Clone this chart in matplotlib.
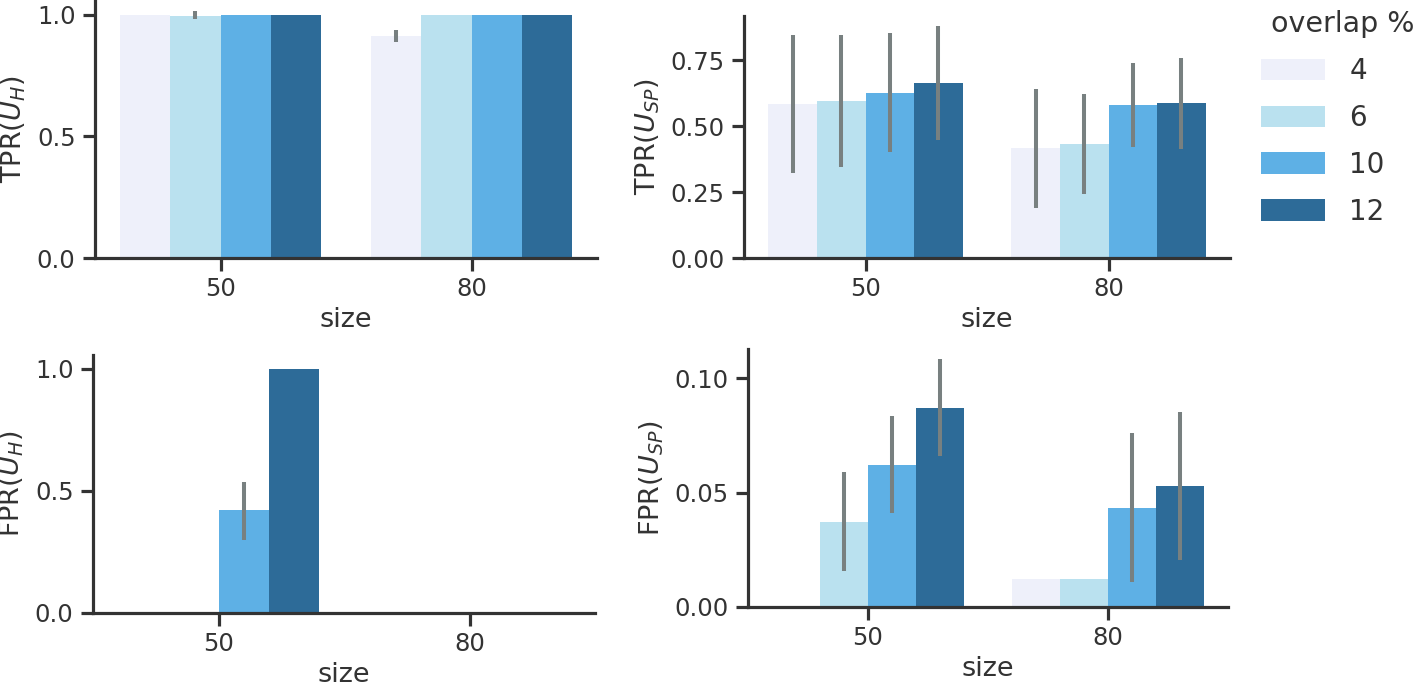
import matplotlib
matplotlib.use("Agg")
import matplotlib.pyplot as plt
import numpy as np
from matplotlib.patches import Patch

sizes = ["50", "80"]
overlaps = ["4", "6", "10", "12"]
colors = ["#eef0fa", "#bae1ef", "#5eb0e5", "#2d6b98"]

# values per overlap, each list is [size 50, size 80]
tpr_h = [[1.0, 0.912], [0.997, 1.0], [1.0, 1.0], [1.0, 1.0]]
tpr_h_lo = [[1.0, 0.888], [0.981, 1.0], [1.0, 1.0], [1.0, 1.0]]
tpr_h_hi = [[1.0, 0.936], [1.014, 1.0], [1.0, 1.0], [1.0, 1.0]]

tpr_sp = [[0.583, 0.417], [0.596, 0.433], [0.627, 0.579], [0.665, 0.586]]
tpr_sp_lo = [[0.322, 0.191], [0.345, 0.244], [0.400, 0.421], [0.446, 0.414]]
tpr_sp_hi = [[0.845, 0.642], [0.845, 0.621], [0.854, 0.740], [0.880, 0.756]]

fpr_h = [[0.0, 0.0], [0.0, 0.0], [0.420, 0.0], [1.0, 0.0]]
fpr_h_lo = [[0.0, 0.0], [0.0, 0.0], [0.301, 0.0], [1.0, 0.0]]
fpr_h_hi = [[0.0, 0.0], [0.0, 0.0], [0.538, 0.0], [1.0, 0.0]]

fpr_sp = [[0.0, 0.0124], [0.0373, 0.0124], [0.0623, 0.0435], [0.0872, 0.0528]]
fpr_sp_lo = [[0.0, 0.0124], [0.0156, 0.0124], [0.0410, 0.0109], [0.0661, 0.0204]]
fpr_sp_hi = [[0.0, 0.0124], [0.0590, 0.0124], [0.0834, 0.0761], [0.1083, 0.0854]]

plt.rcParams["font.family"] = "DejaVu Sans"
plt.rcParams["text.color"] = "#333333"
plt.rcParams["axes.labelcolor"] = "#333333"
plt.rcParams["xtick.color"] = "#333333"
plt.rcParams["ytick.color"] = "#333333"

W, H = 1419, 682
fig = plt.figure(figsize=(W / 100, H / 100), dpi=100)


def px_axes(l, r, b, t):
    return fig.add_axes([l / W, 1 - b / H, (r - l) / W, (b - t) / H])


def draw(ax, vals, lo, hi, ylab, ytop, yticks, fmt):
    x = np.arange(len(sizes))
    for j in range(len(overlaps)):
        pos = x + (j - 1.5) * 0.2
        ax.bar(pos, vals[j], width=0.2, color=colors[j], linewidth=0)
        for k in range(len(sizes)):
            if hi[j][k] > lo[j][k]:
                ax.plot([pos[k], pos[k]], [lo[j][k], hi[j][k]], color="#788080",
                        lw=2.9, solid_capstyle="butt", clip_on=False)
    ax.set_xlim(-0.5, 1.5)
    ax.set_ylim(0, ytop)
    ax.set_xticks(x)
    ax.set_xticklabels(sizes)
    ax.set_yticks(yticks)
    ax.set_yticklabels([fmt % v for v in yticks])
    ax.set_xlabel("size", fontsize=19.5, labelpad=4)
    ax.set_ylabel(ylab, fontsize=19.5, labelpad=6)
    for s in ["top", "right"]:
        ax.spines[s].set_visible(False)
    for s in ["left", "bottom"]:
        ax.spines[s].set_linewidth(2.3)
        ax.spines[s].set_color("#333333")
    ax.tick_params(labelsize=17.5, width=2.3, length=9, pad=5)


ax1 = px_axes(95, 597, 258, 1)
draw(ax1, tpr_h, tpr_h_lo, tpr_h_hi, "TPR($U_H$)", 1.057, [0.0, 0.5, 1.0], "%.1f")
ax2 = px_axes(744, 1230, 258, 16)
draw(ax2, tpr_sp, tpr_sp_lo, tpr_sp_hi, "TPR($U_{SP}$)", 0.917,
     [0.0, 0.25, 0.5, 0.75], "%.2f")
ax3 = px_axes(93, 595, 613, 355)
draw(ax3, fpr_h, fpr_h_lo, fpr_h_hi, "FPR($U_H$)", 1.057, [0.0, 0.5, 1.0], "%.1f")
ax4 = px_axes(748, 1228, 607, 349)
draw(ax4, fpr_sp, fpr_sp_lo, fpr_sp_hi, "FPR($U_{SP}$)", 0.1128,
     [0.0, 0.05, 0.10], "%.2f")

handles = [Patch(facecolor=c, edgecolor="none") for c in colors]
leg = fig.legend(handles, overlaps, title="overlap %", loc="upper left",
                 bbox_to_anchor=(1236 / W, 1 + 15 / H), frameon=False,
                 fontsize=20, title_fontsize=20.5, handlelength=2.3,
                 handleheight=0.8, labelspacing=0.68, handletextpad=0.88)
leg._legend_box.align = "left"
leg.get_title().set_position((10, 0))

fig.savefig("out.png", dpi=100)
